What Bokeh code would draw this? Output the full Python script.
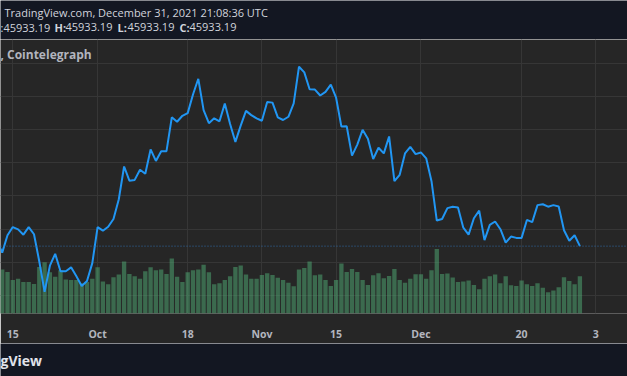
import pandas as pd
from bokeh.plotting import figure
from bokeh.layouts import column
from bokeh.models import Range1d, FixedTicker, Span, Label, Grid, SingleIntervalTicker
from bokeh.embed import file_html
from bokeh.resources import INLINE

# ---------------- data ----------------
start_date = "2021-09-12"
end_date = "2021-12-31"

close = [
    46600,                                                     # Sep 12
    45150, 47250, 48240, 47960, 47320, 48240, 47370, 44080, 40400,  # Sep 13-21
    43570, 45000, 42900, 42900, 43370, 42300, 41120, 41710, 43880,  # Sep 22-30
    48240, 47800, 48280, 49220, 51600, 55560, 53850, 53940, 55160, 54680,  # Oct 1-10
    57620, 56230, 57410, 57410, 61500, 60970, 61690, 62010, 64260, 66160,  # Oct 11-20
    62380, 60800, 61380, 61020, 63160, 60700, 58530, 60500, 62280, 61770, 61380,  # Oct 21-31
    61090, 63350, 63280, 61500, 61180, 61570, 63190, 67620, 66930, 64900,  # Nov 1-10
    64860, 64140, 64580, 65450, 63870, 60380, 60430, 56870, 58210, 59990,  # Nov 11-20
    58920, 56460, 57820, 57140, 59190, 53780, 54560, 57140, 57930, 57060,  # Nov 21-30
    57260, 56550, 53780, 49030, 49220, 50530, 50700, 50610, 48160, 47320,  # Dec 1-10
    49310, 50220, 46660, 48510, 48910, 47980, 46360, 47090, 46930, 46930,  # Dec 11-20
    49100, 48830, 50890, 51000, 50700, 50890, 50730, 47850, 46580, 47250, 45933.19,  # Dec 21-31
]

volume = [
    38,                                                        # Sep 12
    44.7, 42.3, 34, 35.3, 32, 32, 30, 47.3, 52.3,              # Sep 13-21
    42, 37.3, 44, 34.7, 34, 34, 30.7, 32, 35.3,                # Sep 22-30
    47, 32.7, 29.7, 37, 39.7, 53, 40.3, 38, 35.3, 43,          # Oct 1-10
    47, 44, 44.7, 40.3, 56, 37.3, 32, 42, 44, 44.7,            # Oct 11-20
    49.7, 42, 29.7, 30.7, 34, 38, 47.3, 49, 39.7, 35.3, 35.3,  # Oct 21-31
    39.3, 41, 39.3, 36.3, 34, 31.3, 27.7, 44.7, 46.3, 53,      # Nov 1-10
    39, 39.7, 34, 28, 34, 51, 42.3, 45.3, 42.3, 34,            # Nov 11-20
    29, 39, 41, 36, 38.3, 45.3, 34, 31.3, 35.3, 40,            # Nov 21-30
    40, 35.3, 44, 65.7, 40.3, 40.7, 36.7, 32, 32.7, 33.7,      # Dec 1-10
    29, 24.7, 35.3, 38, 39.7, 30.7, 38, 28.7, 28, 33.7,        # Dec 11-20
    29.7, 28, 30.7, 26.3, 21.7, 23.3, 26.7, 37, 33, 29.7, 38,  # Dec 21-31
]

tick_dates = ["2021-09-15", "2021-10-01", "2021-10-18", "2021-11-01",
              "2021-11-15", "2021-12-01", "2021-12-20", "2022-01-03"]
tick_labels = ["15", "Oct", "18", "Nov", "15", "Dec", "20", "3"]

last_price = 45933.19
header_line1 = "TradingView.com, December 31, 2021 21:08:36 UTC"
ohlc_keys = ["H:", "L:", "C:"]
ohlc_value = "45933.19"
title_text = ", Cointelegraph"
footer_text = "gView"

# ---------------- derived ----------------
base = pd.Timestamp("2021-09-15")
dates = pd.date_range(start_date, end_date, freq="D")
xs = [(d - base).days for d in dates]
tick_x = [(pd.Timestamp(d) - base).days for d in tick_dates]

W = 627
FRAME_H = 279
AXIS_H = 25
PX_PER_DAY = 5.30
PRICE_PER_PX = 118.7
x_start = -12.3 / PX_PER_DAY
x_end = x_start + W / PX_PER_DAY
y_end = 44000 + 226.7 * PRICE_PER_PX
y_start = y_end - FRAME_H * PRICE_PER_PX

NAVY = "#131722"
PANE = "#262626"
GRID = "#363636"
FONT = "Open Sans"

# ---------------- header ----------------
h = figure(width=W, height=39, x_range=Range1d(0, W), y_range=Range1d(39, 0),
           toolbar_location=None, output_backend="svg", min_border=0,
           x_axis_location=None, y_axis_location=None,
           background_fill_color=NAVY, border_fill_color=NAVY, outline_line_color=None)
h.center = [r for r in h.center if not isinstance(r, Grid)]
h.add_layout(Label(x=4, y=12, text=header_line1, text_font=FONT, text_font_size="11px",
                   text_color="#d1d4dc", text_baseline="middle"))
segs = [(0, ":" + ohlc_value, "normal")]
kx = [54, 117, 179]
vx = [65, 127, 189]
for k, a, b in zip(ohlc_keys, kx, vx):
    segs.append((a, k, "bold"))
    segs.append((b, ohlc_value, "normal"))
for x0, t, st in segs:
    h.add_layout(Label(x=x0, y=26.5, text=t, text_font=FONT, text_font_size="11px",
                       text_font_style=st, text_color="#d1d4dc", text_baseline="middle"))

# ---------------- main chart ----------------
p = figure(width=W, height=FRAME_H + AXIS_H,
           x_range=Range1d(x_start, x_end), y_range=Range1d(y_start, y_end),
           toolbar_location=None, output_backend="svg", y_axis_location=None,
           min_border_left=0, min_border_right=0, min_border_top=0, min_border_bottom=AXIS_H,
           background_fill_color=PANE, border_fill_color=PANE, outline_line_color=None)
p.center = [r for r in p.center if not isinstance(r, Grid)]
xt = FixedTicker(ticks=tick_x)
p.add_layout(Grid(dimension=0, ticker=xt, grid_line_color=GRID, grid_line_width=1))
p.add_layout(Grid(dimension=1, ticker=SingleIntervalTicker(interval=4000),
                  grid_line_color=GRID, grid_line_width=1))

p.extra_y_ranges = {"vol": Range1d(0, FRAME_H)}
p.vbar(x=xs, top=volume, bottom=0, width=0.82, y_range_name="vol",
       fill_color="#50ae76", fill_alpha=0.5, line_color=None)
p.add_layout(Span(location=last_price, dimension="width", line_color="#2f6aa8",
                  line_dash="1 2", line_width=1))
p.line(xs, close, line_color="#2196f3", line_width=2)

p.xaxis.ticker = xt
p.xaxis.major_label_overrides = {t: l for t, l in zip(tick_x, tick_labels)}
p.xaxis.axis_line_color = None
p.xaxis.major_tick_line_color = None
p.xaxis.minor_tick_line_color = None
p.xaxis.major_label_text_color = "#b2b5be"
p.xaxis.major_label_text_font = FONT
p.xaxis.major_label_text_font_size = "10.5px"
p.xaxis.major_label_text_font_style = "bold"
p.xaxis.major_label_standoff = 7

p.add_layout(Label(x=x_start, y=y_end - 15 * PRICE_PER_PX, text=title_text,
                   text_font=FONT, text_font_size="12px", text_font_style="bold",
                   text_color="#b2b5be", text_baseline="middle"))

# ---------------- footer ----------------
f = figure(width=W, height=33, x_range=Range1d(0, W), y_range=Range1d(33, 0),
           toolbar_location=None, output_backend="svg", min_border=0,
           x_axis_location=None, y_axis_location=None,
           background_fill_color=NAVY, border_fill_color=NAVY, outline_line_color=None)
f.center = [r for r in f.center if not isinstance(r, Grid)]
f.add_layout(Label(x=0, y=17, text=footer_text, text_font=FONT, text_font_size="14px",
                   text_font_style="bold", text_color="#e0e3eb", text_baseline="middle"))

layout = column(h, p, f, spacing=0)
open("out.html", "w").write(file_html(layout, INLINE))
